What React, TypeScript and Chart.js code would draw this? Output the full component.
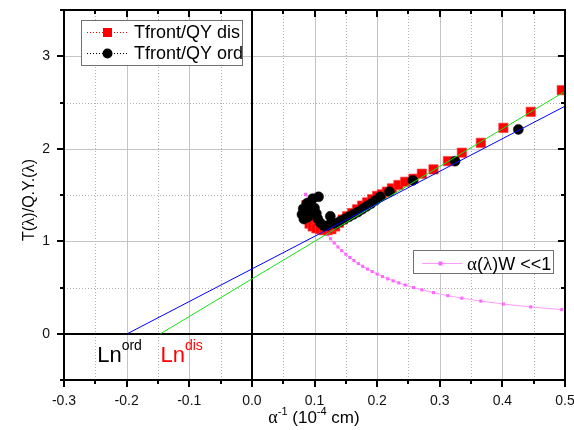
import React, { useEffect, useRef } from "react";
import { Chart, registerables } from "chart.js";
Chart.register(...registerables);

// ---- axis ticks ----
const xMajorTicks = [-0.3, -0.2, -0.1, 0, 0.1, 0.2, 0.3, 0.4, 0.5];
const xMinorTicks = [-0.25, -0.15, -0.05, 0.05, 0.15, 0.25, 0.35, 0.45];
const yMajorTicks = [0, 1, 2, 3];
const yMinorTicks = [-0.5, 0.5, 1.5, 2.5, 3.5];

// ---- Tfront/QY dis (red squares) ----
const disX = [0.087, 0.088, 0.089, 0.092, 0.097, 0.103, 0.109, 0.115, 0.121, 0.127, 0.133, 0.139, 0.145, 0.152, 0.160, 0.168, 0.176, 0.184, 0.192, 0.200, 0.2076, 0.2156, 0.2236, 0.234, 0.2448, 0.258, 0.2714, 0.290, 0.313, 0.3353, 0.3656, 0.4016, 0.4453, 0.4948];
const disY = [1.39, 1.31, 1.24, 1.19, 1.16, 1.14, 1.13, 1.12, 1.12, 1.13, 1.16, 1.20, 1.235, 1.27, 1.305, 1.345, 1.385, 1.42, 1.455, 1.49, 1.507, 1.536, 1.572, 1.608, 1.643, 1.676, 1.73, 1.777, 1.866, 1.957, 2.064, 2.226, 2.399, 2.633];

// ---- Tfront/QY ord (black circles) ----
const ordX = [0.1065, 0.097, 0.088, 0.082, 0.080, 0.083, 0.089, 0.094, 0.100, 0.103, 0.105, 0.109, 0.115, 0.121, 0.1252, 0.128, 0.134, 0.141, 0.148, 0.155, 0.162, 0.169, 0.176, 0.183, 0.190, 0.197, 0.205, 0.2198, 0.257, 0.3245, 0.4255];
const ordY = [1.48, 1.46, 1.41, 1.35, 1.29, 1.24, 1.26, 1.31, 1.36, 1.30, 1.245, 1.20, 1.165, 1.17, 1.27, 1.20, 1.19, 1.215, 1.24, 1.265, 1.29, 1.315, 1.345, 1.375, 1.405, 1.44, 1.482, 1.536, 1.658, 1.866, 2.209];

// ---- α(λ)W <<1 (pink) ----
const pinkX = [0.0856, 0.089, 0.0925, 0.096, 0.0995, 0.103, 0.1065, 0.110, 0.1135, 0.117, 0.1205, 0.1256, 0.1315, 0.1375, 0.1435, 0.150, 0.1565, 0.163, 0.170, 0.177, 0.1845, 0.192, 0.200, 0.2085, 0.217, 0.2255, 0.2345, 0.2448, 0.258, 0.2714, 0.290, 0.313, 0.3353, 0.3656, 0.4016, 0.4453, 0.4948];
const pinkY = [1.507, 1.45, 1.395, 1.344, 1.297, 1.252, 1.211, 1.173, 1.137, 1.103, 1.071, 1.027, 0.981, 0.938, 0.899, 0.860, 0.824, 0.791, 0.759, 0.729, 0.699, 0.672, 0.645, 0.619, 0.594, 0.572, 0.550, 0.527, 0.500, 0.475, 0.445, 0.412, 0.385, 0.353, 0.321, 0.290, 0.261];

// ---- fit lines ----
const blueX = [-0.199, 0.5];
const blueY = [0, 2.46];
const greenX = [-0.146, 0.5];
const greenY = [0, 2.62];

const SANS = "'Liberation Sans', Arial, sans-serif";
const SERIF = "'Liberation Serif', 'Times New Roman', serif";

type Run = { t: string; f: string; dy?: number; c?: string };
function drawRuns(ctx: CanvasRenderingContext2D, runs: Run[], x: number, y: number, align: "left" | "center") {
  let total = 0;
  for (const r of runs) {
    ctx.font = r.f;
    total += ctx.measureText(r.t).width;
  }
  let cx = align === "center" ? x - total / 2 : x;
  ctx.textAlign = "left";
  ctx.textBaseline = "alphabetic";
  for (const r of runs) {
    ctx.font = r.f;
    ctx.fillStyle = r.c || "#000";
    ctx.fillText(r.t, cx, y + (r.dy || 0));
    cx += ctx.measureText(r.t).width;
  }
}

const pts = (xs: number[], ys: number[]) => xs.map((x, i) => ({ x, y: ys[i] }));

const zeroPad = (s: any) => {
  s.paddingLeft = 0;
  s.paddingRight = 0;
  s.paddingTop = 0;
  s.paddingBottom = 0;
};

const framePlugin = {
  id: "frame",
  beforeDatasetsDraw(chart: any) {
    const { ctx, chartArea: a, scales } = chart;
    const x = scales.x, y = scales.y;
    ctx.save();
    ctx.lineWidth = 1;
    // minor dotted grid
    ctx.strokeStyle = "#b0b0b0";
    ctx.setLineDash([1, 2]);
    for (const v of xMinorTicks) {
      const px = Math.round(x.getPixelForValue(v)) + 0.5;
      ctx.beginPath(); ctx.moveTo(px, a.top); ctx.lineTo(px, a.bottom); ctx.stroke();
    }
    for (const v of yMinorTicks) {
      if (v <= -0.5 || v >= 3.5) continue;
      const py = Math.round(y.getPixelForValue(v)) + 0.5;
      ctx.beginPath(); ctx.moveTo(a.left, py); ctx.lineTo(a.right, py); ctx.stroke();
    }
    // major solid grid
    ctx.setLineDash([]);
    ctx.strokeStyle = "#c4c4c4";
    for (const v of xMajorTicks) {
      if (v === 0 || v <= -0.3 || v >= 0.5) continue;
      const px = Math.round(x.getPixelForValue(v)) + 0.5;
      ctx.beginPath(); ctx.moveTo(px, a.top); ctx.lineTo(px, a.bottom); ctx.stroke();
    }
    for (const v of yMajorTicks) {
      if (v === 0) continue;
      const py = Math.round(y.getPixelForValue(v)) + 0.5;
      ctx.beginPath(); ctx.moveTo(a.left, py); ctx.lineTo(a.right, py); ctx.stroke();
    }
    // zero lines
    ctx.strokeStyle = "#000";
    ctx.lineWidth = 2;
    const x0 = Math.round(x.getPixelForValue(0));
    ctx.beginPath(); ctx.moveTo(x0, a.top); ctx.lineTo(x0, a.bottom); ctx.stroke();
    const y0 = Math.round(y.getPixelForValue(0));
    ctx.beginPath(); ctx.moveTo(a.left, y0); ctx.lineTo(a.right, y0); ctx.stroke();
    ctx.restore();
  },
  afterDatasetsDraw(chart: any) {
    const { ctx, chartArea: a, scales } = chart;
    const x = scales.x, y = scales.y;
    ctx.save();
    // frame
    ctx.strokeStyle = "#000";
    ctx.lineWidth = 2;
    ctx.strokeRect(Math.round(a.left), Math.round(a.top), Math.round(a.right - a.left), Math.round(a.bottom - a.top));
    // ticks
    const MAJ = 7, MIN = 4;
    const L = Math.round(a.left), R = Math.round(a.right), T = Math.round(a.top), B = Math.round(a.bottom);
    const tick = (x1: number, y1: number, x2: number, y2: number) => {
      ctx.beginPath(); ctx.moveTo(x1, y1); ctx.lineTo(x2, y2); ctx.stroke();
    };
    for (const v of xMajorTicks) {
      const px = Math.round(x.getPixelForValue(v));
      tick(px, B, px, B + MAJ);
      tick(px, T, px, T + MAJ);
    }
    for (const v of xMinorTicks) {
      const px = Math.round(x.getPixelForValue(v));
      tick(px, B, px, B + MIN);
      tick(px, T, px, T + MIN);
    }
    for (const v of yMajorTicks) {
      const py = Math.round(y.getPixelForValue(v));
      tick(L - MAJ, py, L, py);
      tick(R - MAJ, py, R, py);
    }
    for (const v of yMinorTicks) {
      const py = Math.round(y.getPixelForValue(v));
      tick(L - MIN, py, L, py);
      tick(R - MIN, py, R, py);
    }

    // legend 1
    ctx.lineWidth = 1;
    ctx.fillStyle = "#fff";
    ctx.fillRect(82, 20, 160, 45);
    ctx.strokeStyle = "#707070";
    ctx.strokeRect(81.5, 20.5, 161, 45);
    const rows = [
      { label: "Tfront/QY dis", color: "#ff0000", sq: true, yy: 32.5 },
      { label: "Tfront/QY ord", color: "#000000", sq: false, yy: 53.5 },
    ];
    for (const r of rows) {
      ctx.strokeStyle = r.color;
      ctx.setLineDash([1, 2]);
      ctx.beginPath(); ctx.moveTo(87, r.yy); ctx.lineTo(128, r.yy); ctx.stroke();
      ctx.setLineDash([]);
      ctx.fillStyle = r.color;
      if (r.sq) {
        ctx.fillRect(103, r.yy - 4.5, 9, 9);
      } else {
        ctx.beginPath(); ctx.arc(107.5, r.yy, 5, 0, Math.PI * 2); ctx.fill();
      }
      ctx.fillStyle = "#000";
      ctx.font = `18px ${SANS}`;
      ctx.textAlign = "left";
      ctx.textBaseline = "middle";
      ctx.fillText(r.label, 134, r.yy + 1);
    }

    // legend 2
    ctx.fillStyle = "#fff";
    ctx.fillRect(414, 251, 139, 22);
    ctx.strokeStyle = "#707070";
    ctx.strokeRect(413.5, 250.5, 140, 23);
    ctx.strokeStyle = "#ff99ff";
    ctx.beginPath(); ctx.moveTo(422, 263.5); ctx.lineTo(462, 263.5); ctx.stroke();
    ctx.fillStyle = "#ff66ff";
    ctx.fillRect(438.5, 261.5, 4, 4);
    drawRuns(ctx, [
      { t: "α", f: `19px ${SERIF}` },
      { t: "(", f: `18px ${SANS}` },
      { t: "λ", f: `19px ${SERIF}` },
      { t: ")W <<1", f: `18px ${SANS}` },
    ], 467, 270, "left");

    // annotations
    const lx1 = x.getPixelForValue(-0.247);
    const lx2 = x.getPixelForValue(-0.146);
    const ly = y.getPixelForValue(-0.30);
    drawRuns(ctx, [
      { t: "Ln", f: `22px ${SANS}`, c: "#000" },
      { t: "ord", f: `14px ${SANS}`, dy: -12, c: "#000" },
    ], lx1, ly, "left");
    drawRuns(ctx, [
      { t: "Ln", f: `22px ${SANS}`, c: "#ff0000" },
      { t: "dis", f: `14px ${SANS}`, dy: -12, c: "#ff0000" },
    ], lx2, ly, "left");

    // x title
    drawRuns(ctx, [
      { t: "α", f: `18px ${SERIF}` },
      { t: "-1", f: `11px ${SANS}`, dy: -8 },
      { t: " (10", f: `17px ${SANS}` },
      { t: "-4", f: `11px ${SANS}`, dy: -8 },
      { t: " cm)", f: `17px ${SANS}` },
    ], 314, 423, "center");

    // y title
    ctx.translate(34, 200);
    ctx.rotate(-Math.PI / 2);
    drawRuns(ctx, [
      { t: "T(", f: `16px ${SANS}` },
      { t: "λ", f: `17px ${SERIF}` },
      { t: ")/Q.Y.(", f: `16px ${SANS}` },
      { t: "λ", f: `17px ${SERIF}` },
      { t: ")", f: `16px ${SANS}` },
    ], 0, 0, "center");
    ctx.restore();
  },
};

export default function App() {
  const ref = useRef<HTMLCanvasElement | null>(null);
  useEffect(() => {
    if (!ref.current) return;
    const chart = new Chart(ref.current, {
      type: "scatter",
      data: {
        datasets: [
          {
            label: "blue fit",
            data: pts(blueX, blueY),
            showLine: true,
            borderColor: "#0000ff",
            borderWidth: 1,
            pointRadius: 0,
            order: 0,
          } as any,
          {
            label: "green fit",
            data: pts(greenX, greenY),
            showLine: true,
            borderColor: "#14e014",
            borderWidth: 1,
            pointRadius: 0,
            order: 0,
          },
          {
            label: "Tfront/QY ord",
            data: pts(ordX, ordY),
            showLine: false,
            pointStyle: "circle",
            pointRadius: 5,
            pointBackgroundColor: "#000",
            pointBorderColor: "#000",
            pointBorderWidth: 0.5,
            order: 1,
          },
          {
            label: "Tfront/QY dis",
            data: pts(disX, disY),
            showLine: false,
            pointStyle: "rect",
            pointRadius: 6.6,
            pointBackgroundColor: "#ff0000",
            pointBorderColor: "rgba(255,60,60,0.6)",
            pointBorderWidth: 1,
            order: 2,
          },
          {
            label: "α(λ)W <<1",
            data: pts(pinkX, pinkY),
            showLine: true,
            borderColor: "#ff9cff",
            borderWidth: 1,
            pointStyle: "rect",
            pointRadius: 2.2,
            pointBackgroundColor: "#ff66ff",
            pointBorderWidth: 0,
            order: 3,
          },
        ],
      },
      options: {
        animation: false,
        responsive: false,
        devicePixelRatio: 1,
        layout: { padding: { left: 0, right: 9, top: 10, bottom: 0 } },
        plugins: { legend: { display: false }, tooltip: { enabled: false } },
        scales: {
          x: {
            type: "linear",
            min: -0.3,
            max: 0.5,
            grid: { display: false, drawTicks: false },
            border: { display: false },
            afterBuildTicks: (s: any) => { s.ticks = xMajorTicks.map((v) => ({ value: v })); },
            afterFit: (s: any) => { s.height = 50; zeroPad(s); },
            ticks: {
              padding: 13,
              color: "#111",
              font: { family: SANS, size: 14 },
              maxRotation: 0,
              autoSkip: false,
              callback: (v: any) => Number(v).toFixed(1),
            },
          },
          y: {
            type: "linear",
            min: -0.5,
            max: 3.5,
            grid: { display: false, drawTicks: false },
            border: { display: false },
            afterBuildTicks: (s: any) => { s.ticks = yMajorTicks.map((v) => ({ value: v })); },
            afterFit: (s: any) => { s.width = 64; zeroPad(s); },
            ticks: {
              padding: 14,
              color: "#111",
              font: { family: SANS, size: 14 },
              autoSkip: false,
              callback: (v: any) => Number(v).toFixed(0),
            },
          },
        },
      },
      plugins: [framePlugin],
    } as any);
    return () => chart.destroy();
  }, []);
  return (
    <div style={{ position: "fixed", left: 0, top: 0, width: 574, height: 430, background: "#fff" }}>
      <canvas ref={ref} width={574} height={430} style={{ display: "block" }} />
    </div>
  );
}
